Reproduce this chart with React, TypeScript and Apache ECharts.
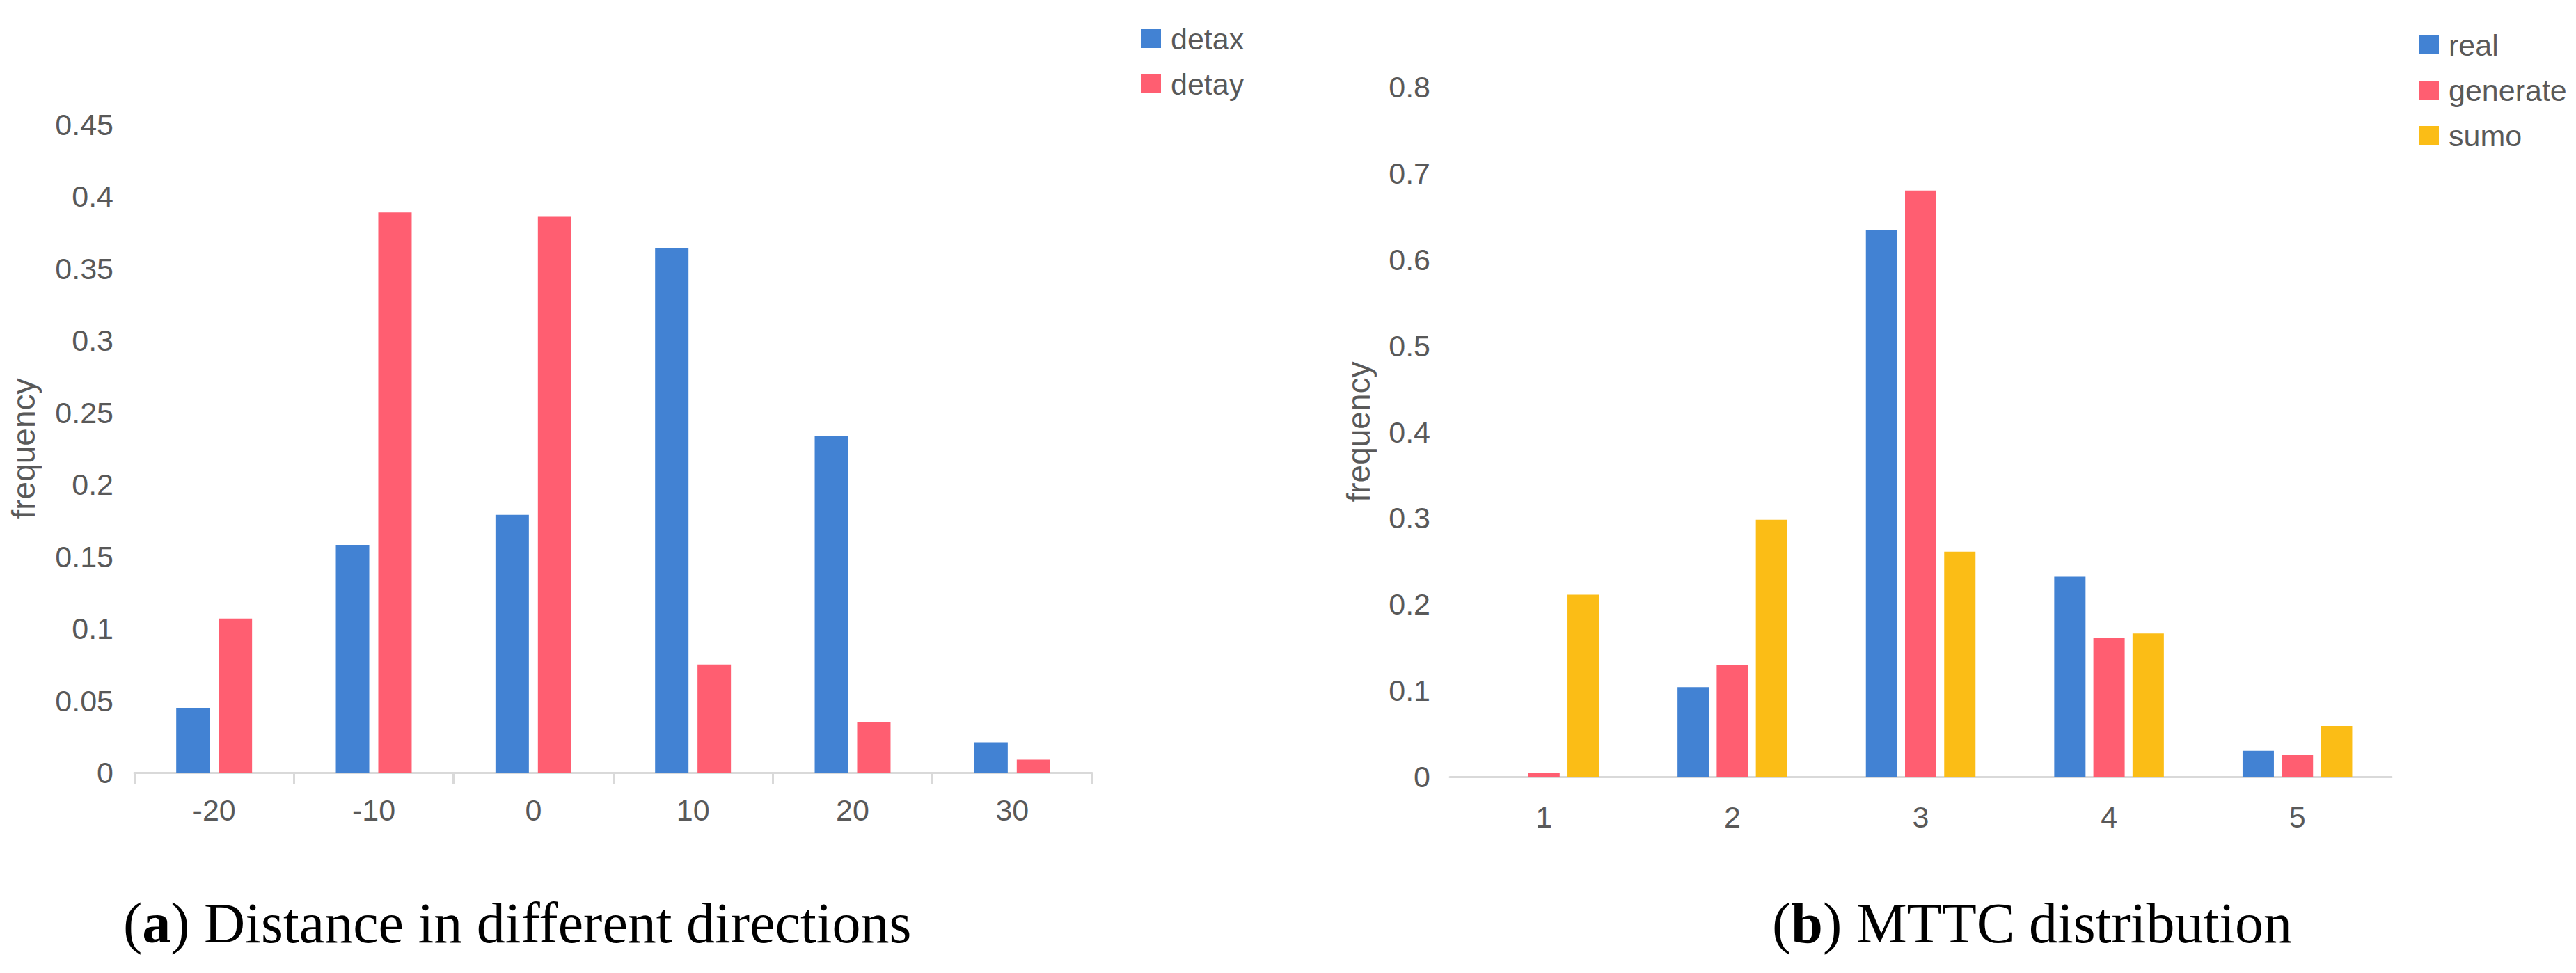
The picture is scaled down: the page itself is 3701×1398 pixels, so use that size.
import React, { useEffect, useRef } from "react";
import * as echarts from "echarts";

const catsA = ["-20", "-10", "0", "10", "20", "30"];
const detax = [0.045, 0.158, 0.179, 0.364, 0.234, 0.021];
const detay = [0.107, 0.389, 0.386, 0.075, 0.035, 0.009];

const catsB = ["1", "2", "3", "4", "5"];
const real = [0, 0.104, 0.634, 0.232, 0.03];
const generate = [0.004, 0.13, 0.68, 0.161, 0.025];
const sumo = [0.211, 0.298, 0.261, 0.166, 0.059];

const BLUE = "#4282D3";
const RED = "#FF5E71";
const YELLOW = "#FBBD16";
const TXT = "#595959";
const AX = "#d9d9d9";
const SANS = "Liberation Sans";
const SERIF = "Liberation Serif";

export default function App() {
  const ref = useRef<HTMLDivElement>(null);
  useEffect(() => {
    document.body.style.margin = "0";
    const chart = echarts.init(ref.current!, null, { renderer: "svg" });
    const labelStyle = { color: TXT, fontSize: 43, fontFamily: SANS };
    const legendCommon = {
      orient: "vertical" as const,
      icon: "rect",
      itemWidth: 28,
      itemHeight: 27,
      itemGap: 22,
      textStyle: { color: TXT, fontSize: 43, fontFamily: SANS, padding: [0, 0, 0, 9] },
    };
    chart.setOption({
      animation: false,
      backgroundColor: "#ffffff",
      grid: [
        { left: 193, top: 179, width: 1376, height: 931, containLabel: false },
        { left: 2083, top: 125, width: 1353, height: 991, containLabel: false },
      ],
      legend: [
        { ...legendCommon, left: 1635, top: 29, data: ["detax", "detay"] },
        { ...legendCommon, left: 3471, top: 38, data: ["real", "generate", "sumo"] },
      ],
      xAxis: [
        {
          type: "category",
          gridIndex: 0,
          data: catsA,
          axisLine: { lineStyle: { color: AX, width: 3 } },
          axisTick: { show: true, length: 16, lineStyle: { color: AX, width: 3 } },
          axisLabel: { ...labelStyle, margin: 32 },
        },
        {
          type: "category",
          gridIndex: 1,
          data: catsB,
          axisLine: { lineStyle: { color: AX, width: 3 } },
          axisTick: { show: false },
          axisLabel: { ...labelStyle, margin: 36 },
        },
      ],
      yAxis: [
        {
          type: "value",
          gridIndex: 0,
          min: 0,
          max: 0.45,
          interval: 0.05,
          axisLine: { show: false },
          axisTick: { show: false },
          splitLine: { show: false },
          axisLabel: { ...labelStyle, margin: 30 },
          name: "frequency",
          nameLocation: "middle",
          nameGap: 136,
          nameRotate: 90,
          nameTextStyle: { color: TXT, fontSize: 46, fontFamily: SANS },
        },
        {
          type: "value",
          gridIndex: 1,
          min: 0,
          max: 0.8,
          interval: 0.1,
          axisLine: { show: false },
          axisTick: { show: false },
          splitLine: { show: false },
          axisLabel: { ...labelStyle, margin: 28 },
          name: "frequency",
          nameLocation: "middle",
          nameGap: 108,
          nameRotate: 90,
          nameTextStyle: { color: TXT, fontSize: 46, fontFamily: SANS },
        },
      ],
      series: [
        { name: "detax", type: "bar", xAxisIndex: 0, yAxisIndex: 0, data: detax, barWidth: 48, barGap: "27%", itemStyle: { color: BLUE } },
        { name: "detay", type: "bar", xAxisIndex: 0, yAxisIndex: 0, data: detay, barWidth: 48, barGap: "27%", itemStyle: { color: RED } },
        { name: "real", type: "bar", xAxisIndex: 1, yAxisIndex: 1, data: real, barWidth: 45, barGap: "25%", itemStyle: { color: BLUE } },
        { name: "generate", type: "bar", xAxisIndex: 1, yAxisIndex: 1, data: generate, barWidth: 45, barGap: "25%", itemStyle: { color: RED } },
        { name: "sumo", type: "bar", xAxisIndex: 1, yAxisIndex: 1, data: sumo, barWidth: 45, barGap: "25%", itemStyle: { color: YELLOW } },
      ],
      graphic: [
        {
          type: "text",
          left: 177,
          top: 1285,
          style: {
            text: "({b|a}) Distance in different directions",
            fontSize: 82,
            fontFamily: SERIF,
            fill: "#000",
            rich: { b: { fontSize: 82, fontFamily: SERIF, fontWeight: "bold", fill: "#000" } },
          },
        },
        {
          type: "text",
          left: 2546,
          top: 1285,
          style: {
            text: "({b|b}) MTTC distribution",
            fontSize: 82,
            fontFamily: SERIF,
            fill: "#000",
            rich: { b: { fontSize: 82, fontFamily: SERIF, fontWeight: "bold", fill: "#000" } },
          },
        },
      ],
    });
    return () => chart.dispose();
  }, []);
  return <div ref={ref} style={{ width: 3701, height: 1398 }} />;
}
